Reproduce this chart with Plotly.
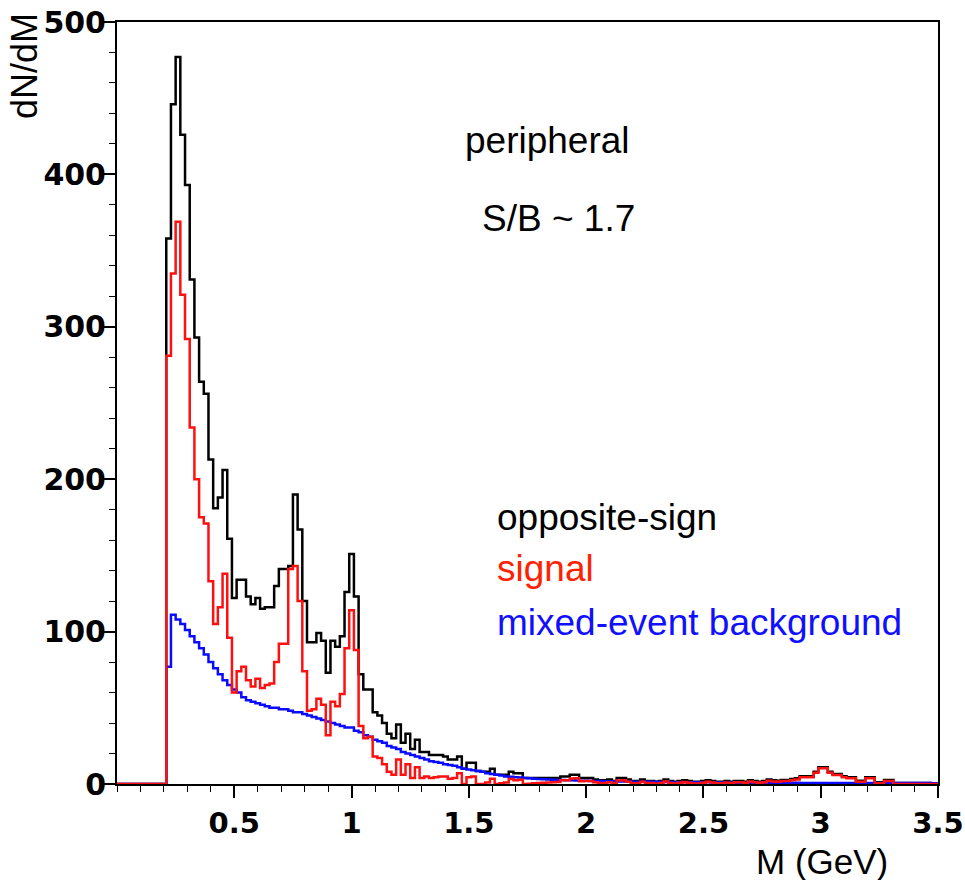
import plotly.graph_objects as go

# Dimuon invariant-mass spectra, peripheral collisions.
# Histograms with 0.02 GeV bins; first bin starts at 0.21 GeV.
bin_start = 0.21
bin_width = 0.02

opposite_sign = [
    358, 446, 477, 426, 393, 331, 293, 264, 256, 213,
    181, 188, 206, 161, 122, 134, 134, 123, 118, 122,
    115, 116, 116, 130, 141, 141, 143, 190, 167, 120,
    93, 93, 99, 94, 73, 94, 90, 97, 126, 151,
    123, 72, 62, 62, 47, 45, 40, 33, 30, 39,
    27, 33, 23, 29, 21, 21, 19, 19, 19, 18,
    16, 16, 18, 10, 14, 14, 8.5, 8, 8, 10,
    6, 6, 6, 8, 7, 7, 4, 4, 4, 4,
    4, 4, 4, 4, 5, 5, 6, 6, 4, 4,
    4, 3, 2.5, 2.5, 3, 2, 4, 4, 3, 2,
    2, 3, 2, 2, 1.5, 2, 3, 2, 1.5, 2,
    2.5, 2, 1.5, 1.5, 2, 2.5, 2, 1.5, 1.5, 2,
    1.5, 2, 2, 1.5, 2.5, 2, 1.5, 2, 3, 2.5,
    2.2, 2.7, 2.7, 3.2, 3.7, 5.1, 5.1, 5.1, 8.1, 11,
    11, 8.1, 6.6, 6.6, 5.1, 4.4, 4.4, 2.2, 2.2, 4.4,
    4.4, 1.2, 1.2, 2.7, 2.7, 0.7, 0.7, 0.7, 0.7, 0.6,
    0.6, 0.6, 0.6, 0.5, 0.5,
]

mixed_background = [
    77, 111, 108, 105, 101, 97, 93, 89, 85, 80,
    76, 72, 68, 65, 62, 60, 57, 55, 54, 53,
    52, 51, 50, 50, 49, 49, 48, 47, 47, 46,
    45, 44, 43, 42, 41, 40, 39, 38, 37, 37,
    35, 34, 32, 31, 29, 28, 27, 25, 24, 23,
    21, 20, 19, 18, 17, 16, 15, 14.5, 14, 13,
    12.5, 12, 11, 10, 9.5, 9, 8.5, 8, 7, 6.5,
    6, 5.5, 5, 4.8, 4.5, 4.2, 4, 3.8, 3.5, 3.3,
    3.1, 3.0, 2.8, 2.7, 2.6, 2.5, 2.4, 2.3, 2.2, 2.1,
    2.0, 1.9, 1.9, 1.8, 1.8, 1.7, 1.7, 1.6, 1.6, 1.5,
    1.5, 1.5, 1.4, 1.4, 1.4, 1.3, 1.3, 1.3, 1.2, 1.2,
    1.2, 1.2, 1.1, 1.1, 1.1, 1.1, 1.0, 1.0, 1.0, 1.0,
    1.0, 0.9, 0.9, 0.9, 0.9, 0.9, 0.9, 0.8, 0.8, 0.8,
    0.8, 0.8, 0.8, 0.8, 0.8, 0.7, 0.7, 0.7, 0.7, 0.7,
    0.7, 0.7, 0.7, 0.7, 0.7, 0.7, 0.7, 0.7, 0.7, 0.7,
    0.7, 0.7, 0.7, 0.7, 0.7, 0.7, 0.7, 0.7, 0.7, 0.6,
    0.6, 0.6, 0.6, 0.5, 0.5,
]

signal = [
    281, 335, 369, 321, 292, 234, 200, 175, 171, 133,
    105, 116, 138, 96, 60, 74, 77, 68, 64, 69,
    63, 65, 66, 80, 92, 92, 141, 143, 120, 74,
    48, 49, 56, 52, 32, 54, 51, 59, 89, 114,
    88, 38, 30, 31, 18, 17, 13, 8, 6, 16,
    6, 13, 4, 11, 4, 5, 4, 4.5, 5, 5,
    3.5, 4, 7, 0, 4.5, 5, 0, 0, 1, 3.5,
    0, 0.5, 1, 3.2, 2.5, 2.8, 0, 0.2, 0.5, 0.7,
    0.9, 1.0, 1.2, 1.3, 2.4, 2.5, 3.6, 3.7, 1.8, 1.9,
    2.0, 1.1, 0.6, 0.7, 1.2, 0.3, 2.3, 2.4, 1.4, 0.5,
    0.5, 1.5, 0.6, 0.6, 0.1, 0.7, 1.7, 0.7, 0.3, 0.8,
    1.3, 0.8, 0.4, 0.4, 0.9, 1.4, 1.0, 0.5, 0.5, 1.0,
    0.5, 1.1, 1.1, 0.6, 1.6, 1.1, 0.6, 1.2, 2.2, 1.7,
    1.5, 2.0, 2.0, 2.5, 3.0, 4.4, 4.4, 4.4, 7.4, 10.3,
    10.3, 7.4, 5.9, 5.9, 4.4, 3.7, 3.7, 1.5, 1.5, 3.7,
    3.7, 0.5, 0.5, 2.0, 2.0, 0, 0, 0, 0, 0,
    0, 0, 0, 0, 0,
]

x_ticks = [0.5, 1, 1.5, 2, 2.5, 3, 3.5]
x_tick_text = ["0.5", "1", "1.5", "2", "2.5", "3", "3.5"]
y_ticks = [0, 100, 200, 300, 400, 500]
y_tick_text = ["0", "100", "200", "300", "400", "500"]


def step_xy(values):
    """Histogram outline: start on the axis at M=0, then one step per bin."""
    edges = [bin_start + i * bin_width for i in range(len(values) + 1)]
    xs = [0.0] + edges
    ys = [0.0] + list(values) + [values[-1]]
    return xs, ys


TEXT_FONT = "Liberation Sans, Arial, sans-serif"
TICK_FONT = "DejaVu Sans, sans-serif"

fig = go.Figure()
for vals, color in [
    (opposite_sign, "#000000"),
    (mixed_background, "#0a0aff"),
    (signal, "#ff1010"),
]:
    xs, ys = step_xy(vals)
    fig.add_trace(go.Scatter(
        x=xs, y=ys, mode="lines", line_shape="hv",
        line=dict(color=color, width=2.5), hoverinfo="skip",
        showlegend=False, cliponaxis=True,
    ))

labels = [
    ("peripheral", 463, 140, "#000000"),
    ("S/B ~ 1.7", 480, 218, "#000000"),
    ("opposite-sign", 495, 517, "#000000"),
    ("signal", 495, 568, "#ff2200"),
    ("mixed-event background", 495, 622, "#1010ff"),
]
L, R, T, B = 117, 938, 22, 784
W, H = 965, 880


def px_to_paper(px, py):
    return (px - L) / (R - L), (B - py) / (B - T)


for text, px, py, color in labels:
    xp, yp = px_to_paper(px, py)
    fig.add_annotation(
        x=xp, y=yp, xref="paper", yref="paper", text=text, showarrow=False,
        xanchor="left", yanchor="middle",
        font=dict(family=TEXT_FONT, size=37, color=color),
    )

# Axis titles sit at the far ends of the axes
xp, yp = px_to_paper(822, 861)
fig.add_annotation(x=xp, y=yp, xref="paper", yref="paper", text="M (GeV)",
                   showarrow=False, xanchor="center", yanchor="middle",
                   font=dict(family=TEXT_FONT, size=35, color="#000000"))
xp, yp = px_to_paper(25, 66)
fig.add_annotation(x=xp, y=yp, xref="paper", yref="paper", text="dN/dM",
                   showarrow=False, textangle=-90, xanchor="center",
                   yanchor="middle",
                   font=dict(family=TEXT_FONT, size=36, color="#000000"))

fig.update_xaxes(
    range=[0, 3.5], showgrid=False, zeroline=False, automargin=False,
    showline=True, linecolor="#000000", linewidth=2, mirror=True,
    ticks="outside", ticklen=12, tickwidth=1.5, tickcolor="#000000",
    tickvals=x_ticks, ticktext=x_tick_text,
    tickfont=dict(family=TICK_FONT, size=29, color="#000000", weight="bold"),
    minor=dict(dtick=0.1, tick0=0, ticks="outside", ticklen=6,
               tickwidth=1.2, tickcolor="#000000"),
)
fig.update_yaxes(
    range=[0, 500], showgrid=False, zeroline=False, automargin=False,
    showline=True, linecolor="#000000", linewidth=2, mirror=True,
    ticks="outside", ticklen=12, tickwidth=1.5, tickcolor="#000000",
    tickvals=y_ticks, ticktext=y_tick_text, ticklabelstandoff=-9,
    tickfont=dict(family=TICK_FONT, size=30, color="#000000", weight="bold"),
    minor=dict(dtick=20, tick0=0, ticks="outside", ticklen=6,
               tickwidth=1.2, tickcolor="#000000"),
)

fig.update_layout(
    width=W, height=H,
    margin=dict(l=L, r=W - R, t=T, b=H - B),
    paper_bgcolor="#ffffff", plot_bgcolor="#ffffff",
)

fig.write_html("out.html")
